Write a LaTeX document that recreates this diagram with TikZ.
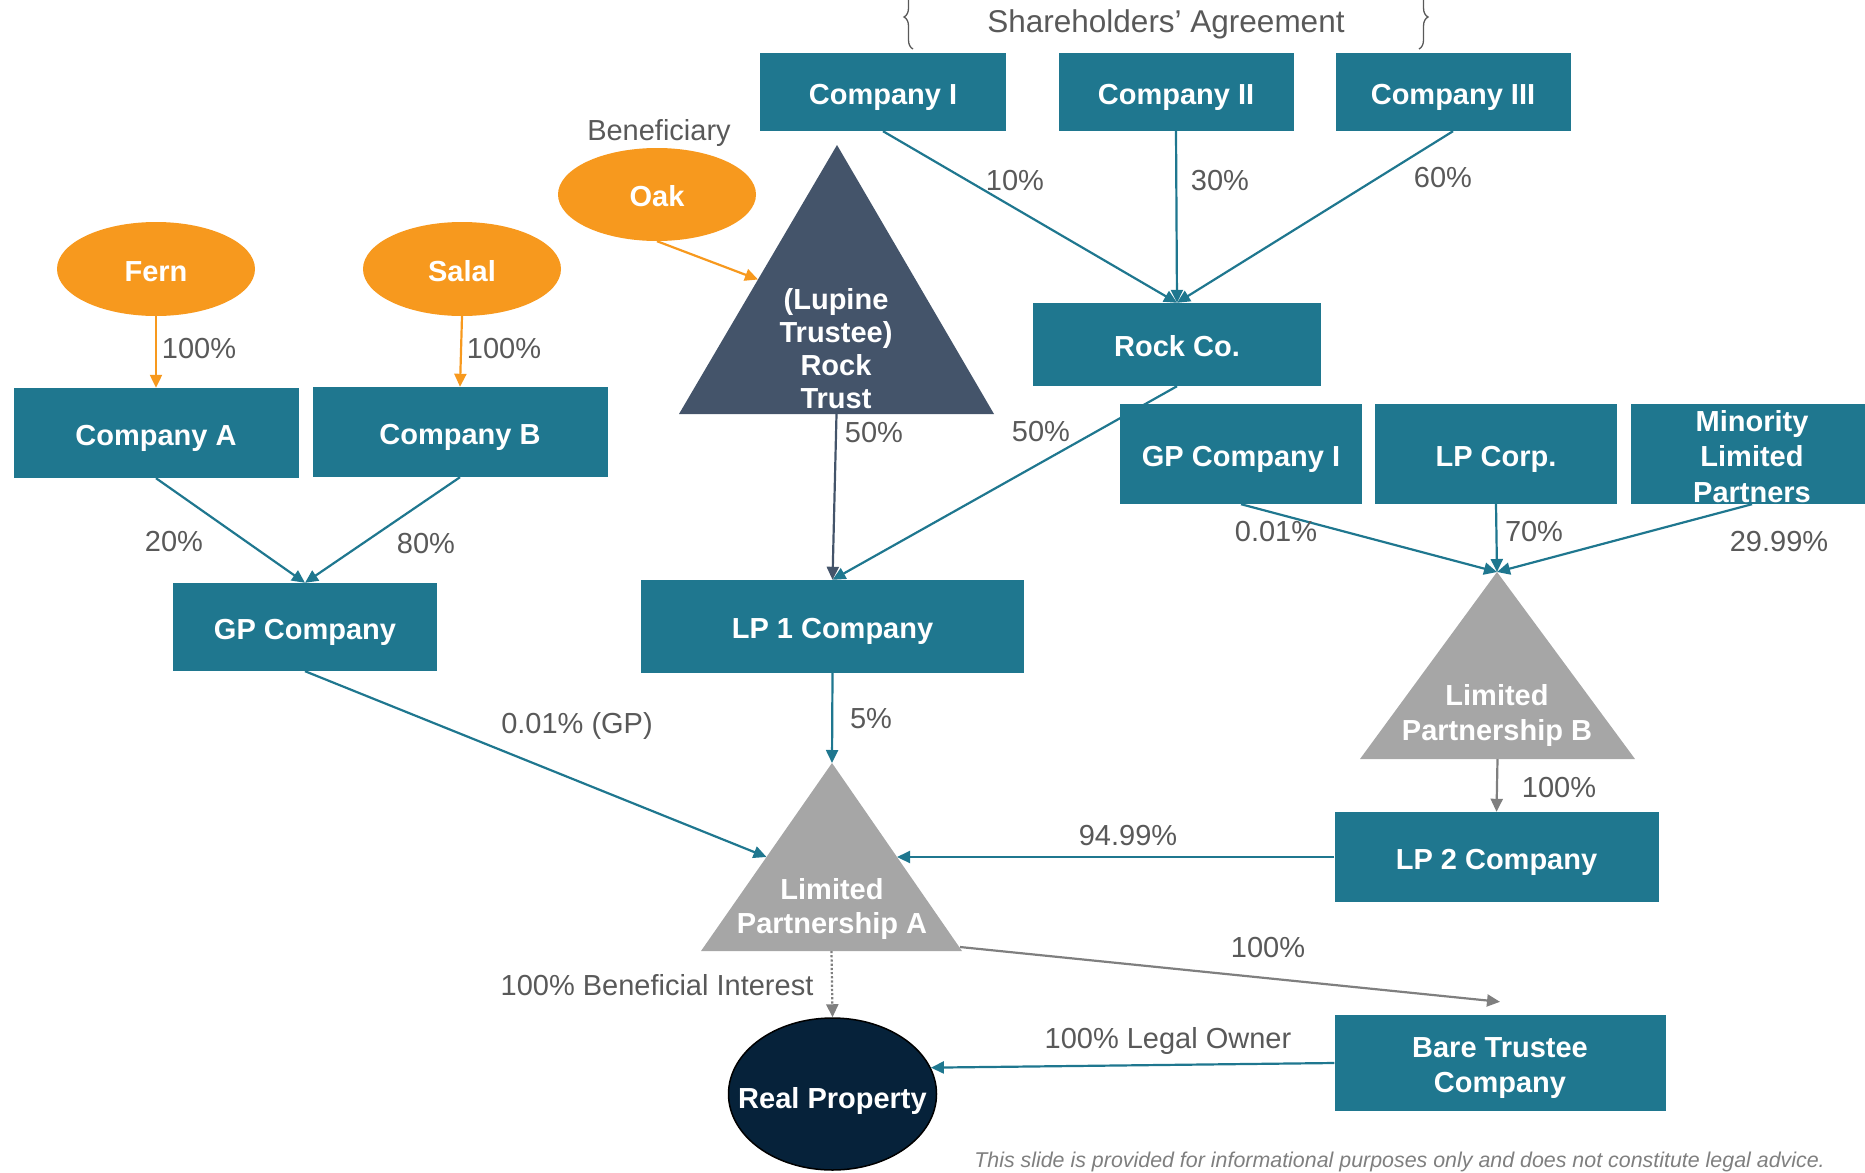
\documentclass[tikz,border=0pt]{standalone}
\usepackage{fontspec}
\setmainfont{Liberation Sans}
\usetikzlibrary{arrows.meta,shapes.geometric,decorations.pathreplacing,calc}
\definecolor{boxteal}{HTML}{1F778F}
\definecolor{orng}{HTML}{F7991E}
\definecolor{slate}{HTML}{44546A}
\definecolor{trigray}{HTML}{A6A6A6}
\definecolor{navy}{HTML}{06223A}
\definecolor{txtgray}{HTML}{595959}
\definecolor{lngray}{HTML}{7F7F7F}
\pgfdeclarelayer{bg}
\pgfsetlayers{bg,main}
\newcommand{\lowerby}[2]{\raisebox{-#1}[\height][\depth]{#2}}
\begin{document}
\begin{tikzpicture}[x=1pt,y=-1pt,
  box/.style={rectangle, fill=boxteal, text=white, font=\fontsize{29}{35}\selectfont\bfseries, inner sep=0pt, align=center},
  oneline/.style={text height=24pt, text depth=0pt},
  lbl/.style={text=txtgray, font=\fontsize{29}{34}\selectfont, inner sep=0pt},
  oval/.style={ellipse, fill=orng, text=white, font=\fontsize{29}{34}\selectfont\bfseries, inner sep=0pt, minimum width=198pt, minimum height=94pt, text height=24pt, text depth=0pt},
  trilbl/.style={text=white, font=\fontsize{29}{34}\selectfont\bfseries, align=center, inner sep=0pt},
  arrowtip/.style={-{Triangle[length=13pt,width=12pt]}},
  tealln/.style={draw=boxteal, line width=2.2pt, arrowtip},
  orln/.style={draw=orng, line width=2.2pt, arrowtip},
  slateln/.style={draw=slate, line width=2.2pt, arrowtip},
  grayln/.style={draw=lngray, line width=2.2pt, arrowtip},
  bracepath/.style={draw=txtgray, line width=1.3pt, decorate, decoration={brace, amplitude=9pt}}
]
\useasboundingbox (0,0) rectangle (1865,1172);

% braces and agreement label
\draw[bracepath] (913,49) -- (913,-15);
\draw[bracepath] (1419,-15) -- (1419,49);
\node[lbl, font=\fontsize{31.5}{36}\selectfont] (sha) at (1166,24.5) {Shareholders’ Agreement};

% top companies
\node[box, oneline, minimum width=246pt, minimum height=78pt] (compI) at (883,92) {Company I};
\node[box, oneline, minimum width=235pt, minimum height=78pt] (compII) at (1176,92) {Company II};
\node[box, oneline, minimum width=235pt, minimum height=78pt] (compIII) at (1453,92) {Company III};
\node[box, oneline, minimum width=288pt, minimum height=83pt] (rock) at (1177,344.5) {Rock Co.};

% ovals
\node[oval] (fern) at (156,269) {Fern};
\node[oval] (salal) at (462,269) {Salal};
\node[oval, minimum height=93pt] (oak) at (657,194.5) {Oak};
\node[lbl] (benef) at (659,133.5) {Beneficiary};

% trust triangle
\coordinate (trA) at (837,145);
\coordinate (trL) at (679,414);
\coordinate (trR) at (994,414);
\fill[slate] (trA) -- (trL) -- (trR) -- cycle;
\node[trilbl, font=\fontsize{29}{33}\selectfont\bfseries] (trust) at (836,349) {(Lupine\\Trustee)\\Rock\\Trust};

% companies A, B, GP
\node[box, oneline, minimum width=285pt, minimum height=90pt] (compA) at (156,433) {Company A};
\node[box, oneline, minimum width=295pt, minimum height=90pt] (compB) at (460,432) {Company B};
\node[box, oneline, minimum width=264pt, minimum height=88pt] (gp) at (305,627) {GP Company};
\node[box, oneline, minimum width=383pt, minimum height=93pt] (lp1) at (832.5,626.5) {LP 1 Company};

% right column
\node[box, oneline, minimum width=242pt, minimum height=100pt] (gpi) at (1241,454) {GP Company I};
\node[box, oneline, minimum width=242pt, minimum height=100pt] (lpcorp) at (1496,454) {LP Corp.};
\node[box, minimum width=242pt, minimum height=100pt, font=\fontsize{29}{35}\selectfont\bfseries] (minor) at (1752,454) {\raisebox{-12pt}[45pt][45pt]{\begin{tabular}{@{}c@{}}Minority\\[0.5pt]Limited\\[0.5pt]Partners\end{tabular}}};

% LP B triangle
\coordinate (lbA) at (1497,572);
\coordinate (lbL) at (1360,759);
\coordinate (lbR) at (1635,759);
\fill[trigray] (lbA) -- (lbL) -- (lbR) -- cycle;
\node[trilbl, font=\fontsize{29}{35}\selectfont\bfseries] (lpb) at (1497,715.5) {Limited\\Partnership B};

\node[box, oneline, minimum width=324pt, minimum height=90pt] (lp2) at (1496.5,857) {LP 2 Company};

% LP A triangle
\coordinate (laA) at (832,763);
\coordinate (laL) at (701,951);
\coordinate (laR) at (962,951);
\fill[trigray] (laA) -- (laL) -- (laR) -- cycle;
\node[trilbl] (lpa) at (832,908.5) {Limited\\Partnership A};

\node[box, minimum width=331pt, minimum height=96pt, font=\fontsize{29}{35}\selectfont\bfseries] (bare) at (1500,1063) {\lowerby{5pt}{\begin{tabular}{@{}c@{}}Bare Trustee\\[0.5pt]Company\end{tabular}}};

\node[ellipse, fill=navy, draw=black, line width=1.5pt, minimum width=208pt, minimum height=152pt, inner sep=0pt] (real) at (832.5,1094) {};
\node[text=white, inner sep=0pt, font=\fontsize{29}{34}\selectfont\bfseries, text height=24pt, text depth=0pt] (realtxt) at (832.5,1096) {Real Property};

% labels
\node[lbl] (l1) at (199,349) {100\%};
\node[lbl] (l2) at (504,349) {100\%};
\node[lbl] (l3) at (174,542) {20\%};
\node[lbl] (l4) at (426,544) {80\%};
\node[lbl] (l5) at (874,433) {50\%};
\node[lbl] (l6) at (1041,432) {50\%};
\node[lbl] (l7) at (1015,181) {10\%};
\node[lbl] (l8) at (1220,181) {30\%};
\node[lbl] (l9) at (1443,178) {60\%};
\node[lbl] (l10) at (1276,532) {0.01\%};
\node[lbl] (l11) at (1534,532) {70\%};
\node[lbl] (l12) at (1779,542) {29.99\%};
\node[lbl] (l13) at (577,726) {0.01\% (GP)};
\node[lbl] (l14) at (871,719) {5\%};
\node[lbl] (l15) at (1128,836) {94.99\%};
\node[lbl] (l16) at (1559,788) {100\%};
\node[lbl] (l17) at (1268,948) {100\%};
\node[lbl] (l18) at (657,985) {100\% Beneficial Interest};
\node[lbl] (l19) at (1168,1041) {100\% Legal Owner};

\node[anchor=base east, inner sep=0pt, text=lngray, font=\fontsize{21.4}{24}\selectfont\itshape] (foot) at (1825,1167) {This slide is provided for informational purposes only and does not constitute legal advice.};

% connectors
\begin{pgfonlayer}{bg}
\draw[orln] (fern.south) -- (compA.north);
\draw[orln] (salal.south) -- (compB.north);
\draw[orln] (oak.south) -- ($(trA)!0.5!(trL)$);
\draw[tealln] (compI.south) -- (rock.north);
\draw[tealln] (compII.south) -- (rock.north);
\draw[tealln] (compIII.south) -- (rock.north);
\draw[tealln] (rock.south) -- (lp1.north);
\draw[slateln] ($(trL)!0.5!(trR)$) -- (lp1.north);
\draw[tealln] (compA.south) -- (gp.north);
\draw[tealln] (compB.south) -- (gp.north);
\draw[tealln] (gpi.south) -- (lbA);
\draw[tealln] (lpcorp.south) -- (lbA);
\draw[tealln] (minor.south) -- (lbA);
\draw[grayln] ($(lbL)!0.5!(lbR)$) -- (lp2.north);
\draw[tealln] (lp2.west) -- ($(laA)!0.5!(laR)$);
\draw[tealln] (gp.south) -- ($(laA)!0.5!(laL)$);
\draw[tealln] (lp1.south) -- (laA);
\draw[grayln] ([xshift=-2pt,yshift=4pt]laR) -- ([yshift=13pt]bare.north);
\draw[grayln, dotted] ($(laL)!0.5!(laR)$) -- (real.north);
\draw[tealln] (bare.west) -- (real.15);
\end{pgfonlayer}
\end{tikzpicture}
\end{document}
